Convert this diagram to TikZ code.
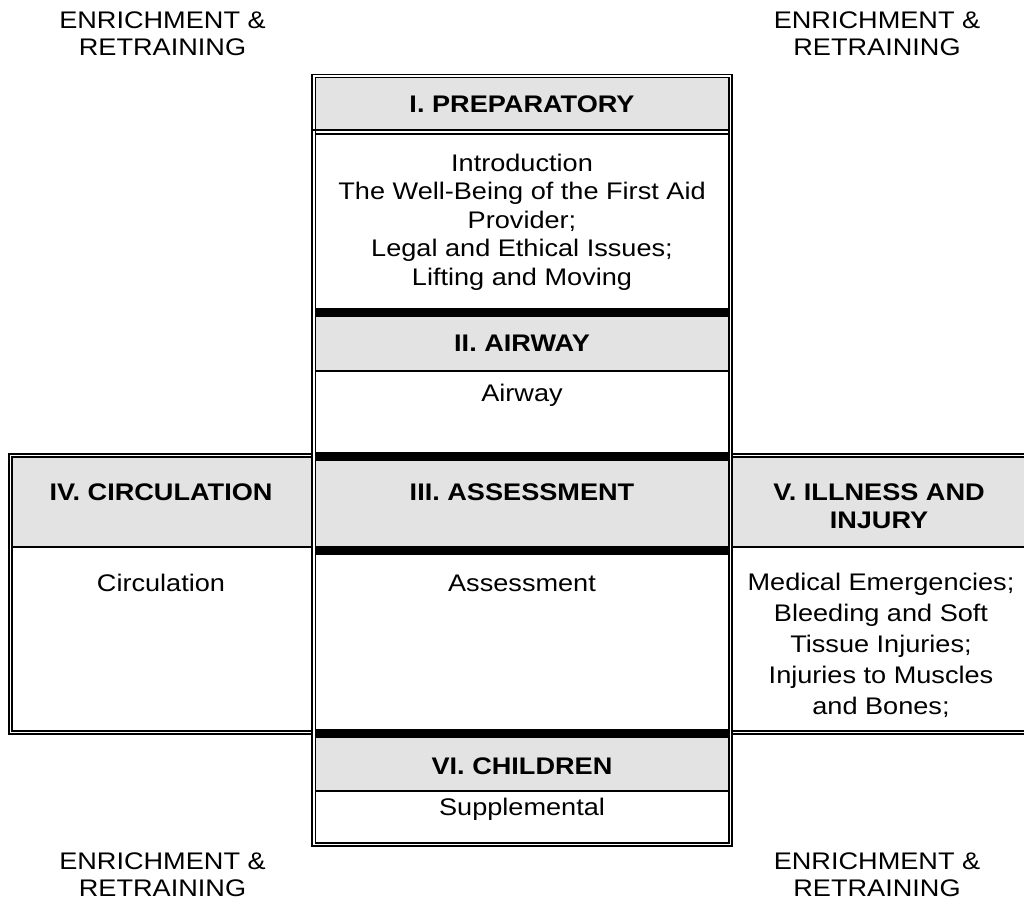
\documentclass[tikz,border=0pt]{standalone}
\usepackage{fontspec}
\setmainfont{Liberation Sans}[FakeStretch=1.13]
\usepackage{xcolor}
\definecolor{hdrgray}{RGB}{227,227,227}

\begin{document}
\begin{tikzpicture}[x=1pt,y=-1pt]
		\tikzstyle{cell} = [fill=hdrgray]
		\tikzstyle{bar} = [fill=black]
		\tikzstyle{rule} = [draw, line width=1.6pt]
		\tikzstyle{title} = [font=\fontsize{24}{28}\selectfont\bfseries, align=center, inner sep=0pt]
		\tikzstyle{entry} = [font=\fontsize{24}{28.5}\selectfont, align=center, inner sep=0pt]
		\useasboundingbox (0,0) rectangle (1024,920);
		% heading cells
		\fill [cell] (316,78) rectangle (728,129);
		\fill [cell] (316,317) rectangle (728,370);
		\fill [cell] (316,461) rectangle (728,546);
		\fill [cell] (12,457) rectangle (311,546);
		\fill [cell] (733,457) rectangle (1024,546);
		\fill [cell] (316,738) rectangle (728,790);
		% thick bars
		\fill [bar] (316,308) rectangle (728,317);
		\fill [bar] (316,452) rectangle (728,461);
		\fill [bar] (316,546) rectangle (728,555);
		\fill [bar] (316,729) rectangle (728,738);
		% thin rules under headings
		\draw [rule] (312,130) -- (729,130);
		\draw [rule] (315.5,134) -- (729,134);
		\draw [rule] (315.5,371) -- (729,371);
		\draw [rule] (12,547) -- (312,547);
		\draw [rule] (732,547) -- (1024,547);
		\draw [rule] (315.5,791) -- (729,791);
		% centre column frame
		\draw [rule] (312,74.5) rectangle (732,846);
		\draw [rule] (315.5,77.5) rectangle (729,843);
		% left box frame
		\draw [rule] (312,454) -- (9,454) -- (9,734) -- (312,734);
		\draw [rule] (312,457) -- (12,457) -- (12,731) -- (312,731);
		% right box frame
		\draw [rule] (732,454) -- (1024,454);
		\draw [rule] (732,457) -- (1024,457);
		\draw [rule] (732,731) -- (1024,731);
		\draw [rule] (732,734) -- (1024,734);
		% corner notes
		\node [entry, font=\fontsize{24}{27}\selectfont] at (162.5,33.5) (noteNW) {ENRICHMENT \&\\RETRAINING};
		\node [entry, font=\fontsize{24}{27}\selectfont] at (877,33.5) (noteNE) {ENRICHMENT \&\\RETRAINING};
		\node [entry, font=\fontsize{24}{27}\selectfont] at (162.5,874.5) (noteSW) {ENRICHMENT \&\\RETRAINING};
		\node [entry, font=\fontsize{24}{27}\selectfont] at (877,874.5) (noteSE) {ENRICHMENT \&\\RETRAINING};
		% headings
		\node [title] at (522,104) (prep) {I. PREPARATORY};
		\node [title] at (522,492) (assess) {III. ASSESSMENT};
		\node [title] at (522,343) (airway) {II. AIRWAY};
		\node [title] at (161,492) (circ) {IV. CIRCULATION};
		\node [title] at (879,506) (illness) {V. ILLNESS AND\\INJURY};
		\node [title] at (522,766) (child) {VI. CHILDREN};
		% contents
		\node [entry] at (522,222) (prepText) {Introduction\\The Well-Being of the First Aid\\Provider;\\Legal and Ethical Issues;\\Lifting and Moving};
		\node [entry] at (522,395) (airwayText) {Airway};
		\node [entry] at (522,583) (assessText) {Assessment};
		\node [entry] at (161,583) (circText) {Circulation};
		\node [entry, font=\fontsize{24}{31}\selectfont] at (881,645) (illnessText) {Medical Emergencies;\\Bleeding and Soft\\Tissue Injuries;\\Injuries to Muscles\\and Bones;};
		\node [entry] at (522,809) (childText) {Supplemental};
	\end{tikzpicture}
\end{document}
